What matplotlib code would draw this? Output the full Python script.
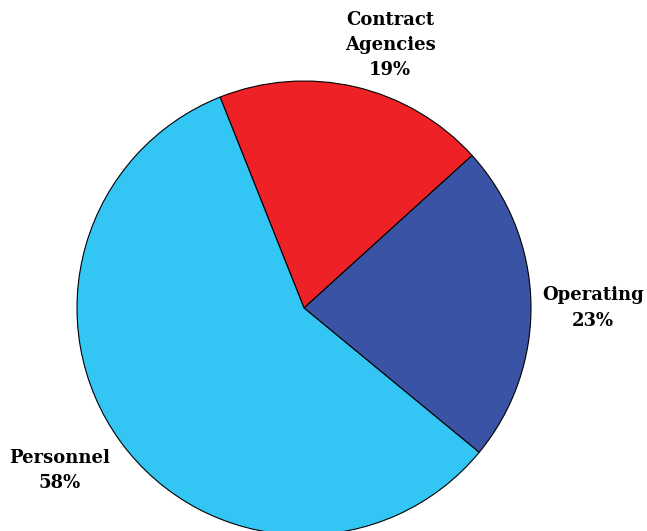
import matplotlib
matplotlib.use("Agg")
import matplotlib.pyplot as plt

# 데이터
categories = ["Contract\nAgencies", "Operating", "Personnel"]
shares = [19.3, 22.7, 58.0]
pct_labels = ["19%", "23%", "58%"]
colors = ["#EE2226", "#3A53A4", "#33C5F3"]

plt.rcParams["font.family"] = ["DejaVu Serif"]

fig = plt.figure(figsize=(6.47, 5.31), dpi=100)
ax = fig.add_axes([0, 0, 1, 1])

ax.pie(shares, colors=colors, startangle=111.7, counterclock=False,
       radius=1.0, wedgeprops={"edgecolor": "black", "linewidth": 0.8})

# 라벨 위치 (data 좌표, 반지름=1 기준)
label_pos = [(0.379, 1.159), (1.273, 0.0), (-1.075, -0.718)]
for name, pct, (x, y) in zip(categories, pct_labels, label_pos):
    ax.text(x, y, f"{name}\n{pct}", ha="center", va="center",
            fontsize=13, fontweight="bold", linespacing=1.5)

ax.set_aspect("auto")
ax.set_xlim(-304 / 227, (647 - 304) / 227)
ax.set_ylim(-223 / 227, (531 - 223) / 227)
ax.axis("off")

fig.savefig("out.png", dpi=100)
